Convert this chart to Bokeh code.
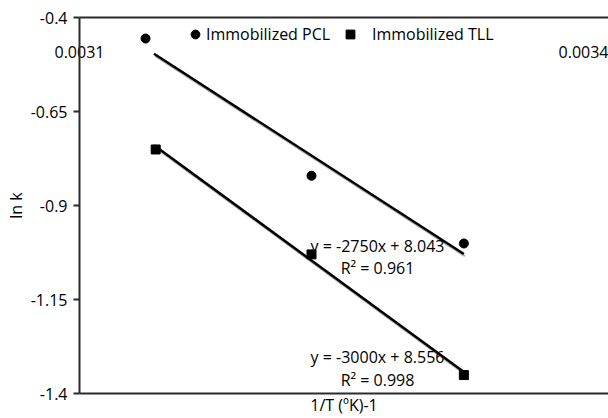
import numpy as np
from bokeh.plotting import figure
from bokeh.models import (LinearAxis, FixedTicker, Legend, LegendItem, Range1d, Label)
from bokeh.core.properties import value
from bokeh.embed import file_html
from bokeh.resources import INLINE

# ---- data ----
pcl_x = [0.003139, 0.003237, 0.003327]
pcl_y = [-0.456, -0.821, -1.001]
tll_x = [0.003145, 0.003237, 0.003327]
tll_y = [-0.751, -1.030, -1.351]
trend_x = [0.003144, 0.003327]
y_ticks = [-0.4, -0.65, -0.9, -1.15, -1.4]
y_tick_labels = ["-0.4", "-0.65", "-0.9", "-1.15", "-1.4"]
x_ticks = [0.0031, 0.0034]
x_tick_labels = ["0.0031", "0.0034"]
pcl_eq = ["y = -2750x + 8.043", "R\u00b2 = 0.961"]
tll_eq = ["y = -3000x + 8.556", "R\u00b2 = 0.998"]

FONT = "Open Sans"
FS = "16px"
TXT = "#000000"
AX = "#2b2b2b"

W, H = 608, 418
LEFT, TOP, BOTTOM = 79, 17, 25
x0 = 0.0031
xpp = 0.0003 / 508.0
x_end = x0 + (W - LEFT) * xpp
ypp = 1.0 / (H - TOP - BOTTOM)

p = figure(width=W, height=H, output_backend="svg", toolbar_location=None,
           x_range=Range1d(x0, x_end), y_range=Range1d(-1.4, -0.4),
           x_axis_type=None, y_axis_type=None,
           min_border_left=LEFT, min_border_right=0, min_border_top=TOP,
           min_border_bottom=BOTTOM)
p.outline_line_color = None
p.grid.visible = False
p.background_fill_color = "white"
p.border_fill_color = "white"

# y axis
yax = LinearAxis(ticker=FixedTicker(ticks=y_ticks),
                 major_label_overrides={t: l for t, l in zip(y_ticks, y_tick_labels)},
                 axis_label="ln k")
yax.axis_line_color = AX
yax.axis_line_width = 2
yax.major_tick_line_color = AX
yax.major_tick_line_width = 2
yax.major_tick_out = 6
yax.major_tick_in = 0
yax.minor_tick_line_color = None
yax.major_label_standoff = 6
yax.major_label_text_font = FONT
yax.major_label_text_font_size = FS
yax.major_label_text_color = TXT
yax.axis_label_text_font = FONT
yax.axis_label_text_font_size = FS
yax.axis_label_text_font_style = "normal"
yax.axis_label_text_color = TXT
yax.axis_label_standoff = 1
p.add_layout(yax, "left")

# bottom line with title
xax = LinearAxis(ticker=FixedTicker(ticks=[]), axis_label="1/T (\u00baK)-1")
xax.axis_line_color = AX
xax.axis_line_width = 2
xax.major_tick_line_color = None
xax.minor_tick_line_color = None
xax.major_label_text_font_size = "0px"
xax.major_label_standoff = 0
xax.axis_label_text_font = FONT
xax.axis_label_text_font_size = FS
xax.axis_label_text_font_style = "normal"
xax.axis_label_text_color = TXT
xax.axis_label_standoff = 0
p.add_layout(xax, "below")

# top line: horizontal axis crossing at the top, labels hanging below it
tax = LinearAxis(ticker=FixedTicker(ticks=x_ticks),
                 major_label_overrides={t: l for t, l in zip(x_ticks, x_tick_labels)})
tax.axis_line_color = AX
tax.axis_line_width = 2
tax.major_tick_line_color = None
tax.major_tick_out = 0
tax.major_tick_in = 0
tax.minor_tick_line_color = None
tax.major_label_text_font = FONT
tax.major_label_text_font_size = FS
tax.major_label_text_color = TXT
tax.major_label_standoff = -40
p.add_layout(tax, "above")


def px2x(px):
    return x0 + (px - LEFT) * xpp


def py2y(py):
    return -0.4 - (py - TOP) * ypp


# trendlines (least squares fit), with grey shadow
for xs, ys in ((pcl_x, pcl_y), (tll_x, tll_y)):
    m, b = np.polyfit(xs, ys, 1)
    tx = np.array(trend_x)
    ty = m * tx + b
    p.line(tx + 1 * xpp, ty - 2.2 * ypp, line_color="#b0b0b0", line_width=2)
    p.line(tx, ty, line_color="#000000", line_width=2.5)

r_pcl = p.scatter(pcl_x, pcl_y, marker="circle", size=9, fill_color="#000000",
                  line_color="#000000")
r_tll = p.scatter(tll_x, tll_y, marker="square", size=9, fill_color="#000000",
                  line_color="#000000")

# equations
for lines, ys in ((pcl_eq, (245, 267.5)), (tll_eq, (356.5, 379))):
    for t, yy in zip(lines, ys):
        p.add_layout(Label(x=px2x(377), y=py2y(yy), text=t, text_font=FONT,
                           text_font_size=FS, text_color=TXT, text_align="center",
                           text_baseline="middle"))


# legends
def mk_legend(r, label, loc, standoff):
    lg = Legend(items=[LegendItem(label=label, renderers=[r])], location=loc,
                orientation="horizontal", glyph_width=22, glyph_height=22,
                label_height=22, label_standoff=standoff, padding=0, margin=0,
                border_line_color=None, background_fill_alpha=0,
                label_text_font=FONT, label_text_font_size=FS,
                label_text_color=TXT)
    p.add_layout(lg)


mk_legend(r_pcl, "Immobilized PCL", (105, 348), 0)
mk_legend(r_tll, "Immobilized TLL", (260, 348), 11)

open("out.html", "w").write(file_html(p, INLINE))
